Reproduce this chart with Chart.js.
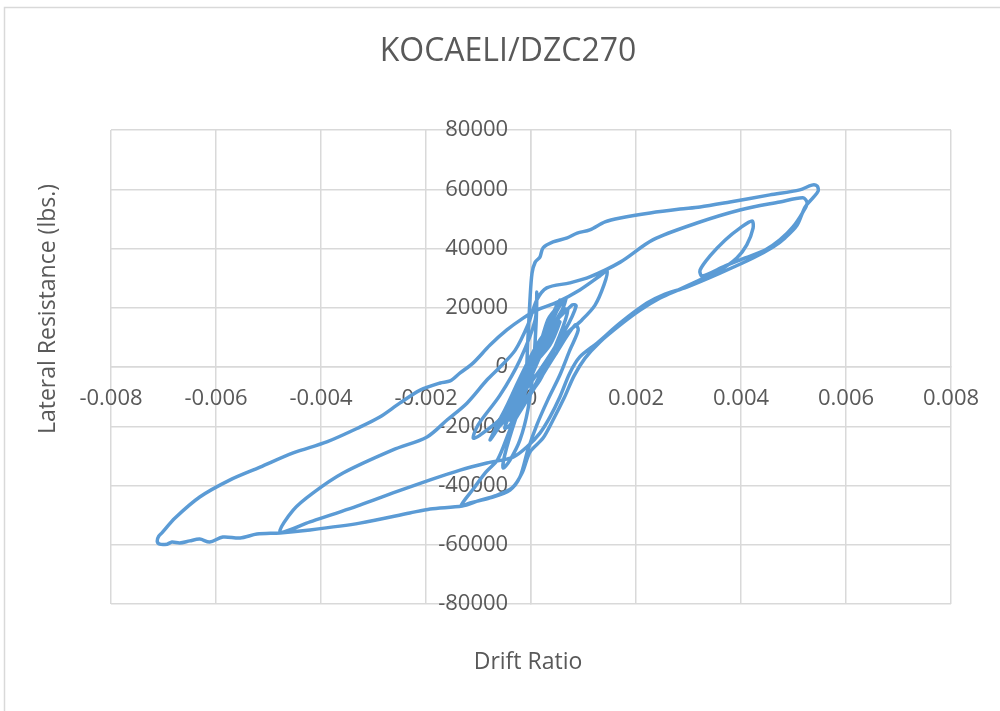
<!DOCTYPE html>
<html>
<head>
<meta charset="utf-8">
<script src="https://cdn.jsdelivr.net/npm/chart.js@4.4.1/dist/chart.umd.min.js"></script>
<style>
  html, body { margin: 0; padding: 0; background: #fff; }
  #wrap { position: relative; width: 1000px; height: 711px; }
</style>
</head>
<body>
<div id="wrap"><canvas id="hysteresisChart" width="1000" height="711"></canvas></div>
<script>
const chartTitle = "KOCAELI/DZC270";
const xAxisTitle = "Drift Ratio";
const yAxisTitle = "Lateral Resistance (lbs.)";

// axis ranges / tick steps
const xMin = -0.008, xMax = 0.008, xStep = 0.002;
const yMin = -80000, yMax = 80000, yStep = 20000;

// drift ratio (in drawing order)
const driftRatio = [
  0, 0.00027, 0.00046, 0.00032, 0.00008, -0.00030, -0.00050, -0.00036, -0.00002, 0.00036,
  0.00055, 0.00046, -0.00002, -0.00050, -0.00069, -0.00050, 0.00008, 0.00059, 0.00067, 0.00051,
  -0.00006, -0.00059, -0.00078, -0.00059, 0.00017, 0.00078, 0.00086, 0.00065, 0.00017, -0.00050,
  -0.00097, -0.00110, -0.00101, -0.00059, -0.00021, 0.00008, 0.00011, 0.00010, 0.00004, -0.00006,
  -0.00021, -0.00040, -0.00053, -0.00050, -0.00030, -0.00002, 0.00027, 0.00059, 0.00070, 0.00055,
  0.00017, -0.00021, -0.00040, -0.00030, -0.00011, -0.00006, -0.00002, 0.00002, 0.00008, 0.00017,
  0.00023, 0.00042, 0.00069, 0.00088, 0.00112, 0.00141, 0.00170, 0.00227, 0.00284, 0.00322,
  0.00379, 0.00455, 0.00512, 0.00535, 0.00545, 0.00547, 0.00537, 0.00522, 0.00507, 0.00484,
  0.00461, 0.00423, 0.00360, 0.00297, 0.00251, 0.00221, 0.00170, 0.00126, 0.00093, 0.00074,
  0.00055, 0.00036, 0.00017, -0.00008, -0.00034, -0.00084, -0.00135, -0.00192, -0.00263, -0.00326,
  -0.00421, -0.00478,
  -0.00453, -0.00415, -0.00358, -0.00263, -0.00198, -0.00160, -0.00122, -0.00084, -0.00059, -0.00030,
  -0.00006, 0.00011, 0.00030, 0.00074, 0.00112, 0.00170, 0.00232, 0.00316, 0.00398, 0.00474,
  0.00518, 0.00526, 0.00518, 0.00499, 0.00474, 0.00446, 0.00408, 0.00370, 0.00326,
  0.00322, 0.00341, 0.00370, 0.00398, 0.00421, 0.00423, 0.00411, 0.00392, 0.00360, 0.00322,
  0.00284, 0.00246, 0.00208, 0.00170, 0.00131, 0.00103, 0.00082, 0.00063, 0.00042, 0.00023,
  -0.00002, -0.00017, -0.00036, -0.00069, -0.00101, -0.00131, -0.00192, -0.00231, -0.00326, -0.00421,
  -0.00478,
  -0.00522, -0.00554, -0.00587, -0.00612, -0.00631, -0.00650, -0.00669, -0.00684, -0.00693, -0.00707,
  -0.00712, -0.00709, -0.00703,
  -0.00678, -0.00631, -0.00573, -0.00516, -0.00453, -0.00389, -0.00326, -0.00288, -0.00250, -0.00211,
  -0.00173, -0.00154, -0.00135, -0.00110, -0.00078, -0.00046, -0.00015, 0.00011, 0.00050, 0.00093,
  0.00131, 0.00145, 0.00139, 0.00122, 0.00097, 0.00065, 0.00032, -0.00002, -0.00036, -0.00063,
  -0.00086, -0.00110, -0.00133, -0.00116, -0.00078, -0.00040, -0.00021, -0.00006, 0.00011, 0.00032,
  0.00055, 0.00074, 0.00090, 0.00084, 0.00046, -0.00002, -0.00040, -0.00050, -0.00036, 0.00008,
  0.00046, 0.00055, 0.00036, 0
];

// lateral resistance, lbs.
const lateralResistance = [
  0, 12500, 19200, 15900, 2400, -11100, -16200, -11100, 700, 15900,
  22600, 17600, -1000, -17900, -21300, -14500, 5700, 21900, 23300, 15900,
  -2700, -19600, -24600, -17900, 9100, 20900, 20600, 12500, -1000, -16200,
  -23000, -24000, -19600, -9500, 2400, 15900, 25300, 15900, -1000, -14500,
  -24600, -31400, -34100, -29700, -17900, -4400, 7400, 19200, 19200, 10800,
  -4400, -12800, -17900, -14500, -4400, 9100, 22600, 31700, 35400, 37100,
  40200, 42200, 43600, 45200, 46300, 49000, 50300, 52000, 53300, 54000,
  55700, 58100, 59800, 61400, 61100, 59400, 57100, 54000, 47900, 43600,
  40500, 36800, 31700, 27000, 24300, 21600, 14900, 8100, 3400, -2000,
  -10100, -16900, -22300, -27000, -30400, -32400, -34800, -38100, -42500, -46600,
  -52300, -55700,
  -48300, -42500, -35800, -28000, -23600, -17900, -12200, -4400, 0, 5700,
  14200, 22600, 26700, 28400, 30400, 35400, 42900, 48600, 53000, 55700,
  57100, 55400, 52300, 47300, 42900, 39500, 36800, 34100, 30700,
  32700, 37500, 42900, 46900, 49300, 46900, 41200, 36800, 32700, 29400,
  26300, 23300, 19200, 14200, 8400, 3000, -3000, -10500, -17900, -24000,
  -28700, -35800, -40800, -43500, -45200, -46900, -47900, -49300, -52700, -55000,
  -56000,
  -56400, -57700, -57400, -59100, -58100, -58700, -59400, -59100, -59800, -59800,
  -58700, -57100, -56000,
  -51000, -43900, -38100, -33800, -29000, -25300, -20300, -16900, -12200, -7800,
  -5400, -4700, -2000, 1400, 7400, 12500, 16500, 19200, 21900, 26000,
  30700, 32400, 27700, 20900, 15900, 10800, 2400, -9500, -19600, -31100,
  -35500, -41200, -46800, -45900, -44200, -41500, -37100, -28000, -19600, -11100,
  -2700, 5700, 12500, 14200, 4100, -9500, -19600, -20600, -14500, 700,
  12500, 15200, 7400, 0
];

const points = driftRatio.map((x, i) => ({ x: x, y: lateralResistance[i] }));

const textColor = "#595959";
const gridColor = "#d9d9d9";
const fontFamily = "'Open Sans', 'Noto Sans', sans-serif";

// title, axis titles and the outer frame
const decorPlugin = {
  id: "decor",
  afterDraw(chart) {
    const ctx = chart.ctx;
    const area = chart.chartArea;
    ctx.save();
    ctx.strokeStyle = gridColor;
    ctx.lineWidth = 1.5;
    ctx.strokeRect(4.5, 7.5, chart.width + 20, chart.height + 20);

    ctx.fillStyle = textColor;
    ctx.textAlign = "center";
    ctx.textBaseline = "middle";
    ctx.font = "32px " + fontFamily;
    ctx.fillText(chartTitle, 508, 52);

    ctx.font = "23px " + fontFamily;
    ctx.fillText(xAxisTitle, 528, area.bottom + 58);

    ctx.translate(48, 309);
    ctx.rotate(-Math.PI / 2);
    ctx.fillText(yAxisTitle, 0, 0);
    ctx.restore();
  }
};

const ctx = document.getElementById("hysteresisChart").getContext("2d");
window.hysteresisChart = new Chart(ctx, {
  type: "scatter",
  data: {
    datasets: [{
      label: chartTitle,
      data: points,
      showLine: true,
      borderColor: "#5b9bd5",
      backgroundColor: "#5b9bd5",
      borderWidth: 3.5,
      pointRadius: 0,
      tension: 0.3
    }]
  },
  options: {
    responsive: false,
    animation: false,
    layout: { padding: { left: 111, right: 49, top: 130, bottom: 107 } },
    plugins: {
      legend: { display: false },
      title: { display: false },
      tooltip: { enabled: false }
    },
    scales: {
      x: {
        type: "linear",
        position: { y: 0 },
        min: xMin,
        max: xMax,
        grid: { color: gridColor, lineWidth: 1.5, drawTicks: false },
        border: { color: gridColor, width: 1.5 },
        ticks: {
          stepSize: xStep,
          padding: 19,
          color: textColor,
          font: { family: fontFamily, size: 22 },
          maxRotation: 0,
          callback: v => String(Math.round(v * 1000) / 1000)
        }
      },
      y: {
        type: "linear",
        position: { x: 0 },
        min: yMin,
        max: yMax,
        grid: { color: gridColor, lineWidth: 1.5, drawTicks: false },
        border: { color: gridColor, width: 1.5 },
        ticks: {
          stepSize: yStep,
          color: textColor,
          font: { family: fontFamily, size: 22 },
          // centred axis ignores padding, so keep a gap with trailing spaces
          callback: v => String(v) + "    "
        }
      }
    }
  },
  plugins: [decorPlugin]
});
</script>
</body>
</html>
